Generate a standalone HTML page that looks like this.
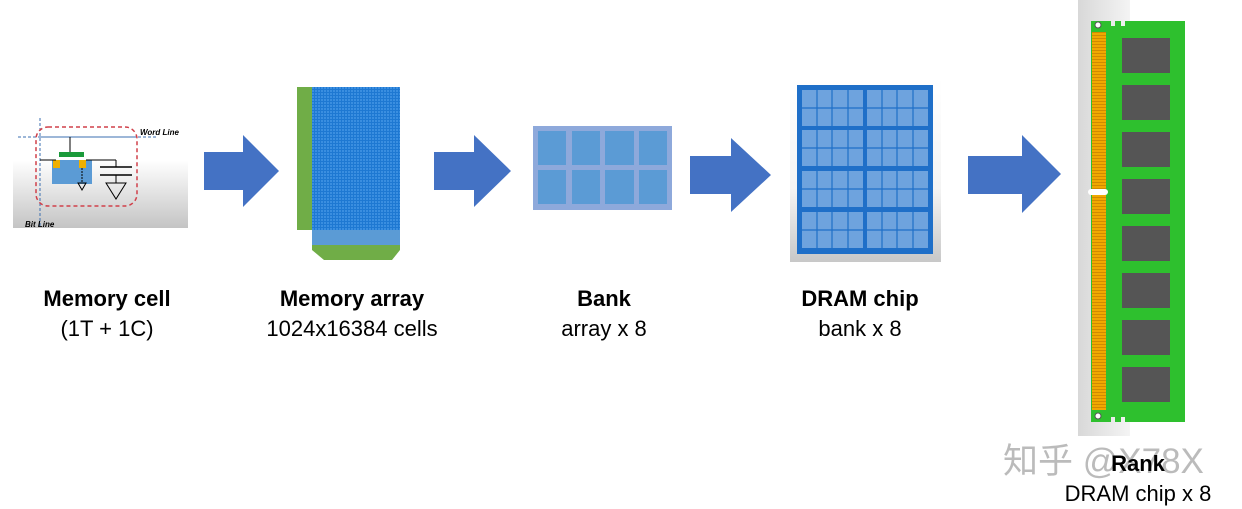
<!DOCTYPE html>
<html><head><meta charset="utf-8"><style>
body{margin:0;width:1242px;height:509px;background:#fff;position:relative;overflow:hidden;font-family:"Liberation Sans","Noto Sans CJK SC",sans-serif;}
.l{position:absolute;text-align:center;font-size:22px;color:#000;line-height:30px;}
.b{font-weight:bold;}
</style></head><body>
<svg width="1242" height="509" style="position:absolute;left:0;top:0">
<defs>
<linearGradient id="cg" x1="0" y1="0" x2="0" y2="1"><stop offset="0" stop-color="#fff"/><stop offset="0.4" stop-color="#fff"/><stop offset="1" stop-color="#c4c4c4"/></linearGradient>
<linearGradient id="chipg" x1="0" y1="0" x2="0" y2="1"><stop offset="0" stop-color="#fff"/><stop offset="0.6" stop-color="#f4f4f4"/><stop offset="1" stop-color="#c8c8c8"/></linearGradient>
<linearGradient id="ramg" x1="0" y1="0" x2="1" y2="0"><stop offset="0" stop-color="#d8d8d8"/><stop offset="1" stop-color="#f4f4f4"/></linearGradient>
<pattern id="grid" width="3" height="3" patternUnits="userSpaceOnUse"><rect width="3" height="3" fill="#1e78d2"/><rect width="2" height="2" fill="#3a8ee0"/></pattern>
<pattern id="gold" width="3" height="3" patternUnits="userSpaceOnUse"><rect width="3" height="3" fill="#f0a800"/><rect y="2" width="3" height="1" fill="#d08a00"/></pattern>
</defs>
<rect x="13" y="115" width="175" height="113" fill="url(#cg)"/>
<line x1="40" y1="118" x2="40" y2="228" stroke="#3b6fb0" stroke-width="1" stroke-dasharray="3,2"/>
<line x1="18" y1="137" x2="158" y2="137" stroke="#3b6fb0" stroke-width="1" stroke-dasharray="3,2"/>
<line x1="40" y1="137" x2="135" y2="137" stroke="#3b6fb0"/>
<rect x="36" y="127" width="101" height="79" rx="12" fill="none" stroke="#d0404a" stroke-width="1.5" stroke-dasharray="4,3"/>
<text x="140" y="135" font-size="8" font-weight="bold" font-style="italic" font-family="Liberation Sans">Word Line</text>
<text x="25" y="227" font-size="8" font-weight="bold" font-style="italic" font-family="Liberation Sans">Bit Line</text>
<line x1="70" y1="137" x2="70" y2="153" stroke="#000"/>
<rect x="59" y="152" width="25" height="5" fill="#1a9a3a"/>
<rect x="52" y="160" width="40" height="24" fill="#5b9bd5"/>
<rect x="53" y="160" width="7" height="8" fill="#f0b000"/>
<rect x="79" y="160" width="7" height="8" fill="#f0b000"/>
<line x1="40" y1="160" x2="56" y2="160" stroke="#000"/>
<line x1="86" y1="160" x2="116" y2="160" stroke="#000"/>
<line x1="116" y1="160" x2="116" y2="167" stroke="#000"/>
<line x1="100" y1="167" x2="132" y2="167" stroke="#000" stroke-width="1.5"/>
<line x1="100" y1="175" x2="132" y2="175" stroke="#000" stroke-width="1.5"/>
<line x1="116" y1="175" x2="116" y2="183" stroke="#000"/>
<polygon points="106,183 126,183 116,199" fill="none" stroke="#000"/>
<line x1="82" y1="168" x2="82" y2="183" stroke="#000" stroke-dasharray="2,1"/>
<polygon points="78,183 86,183 82,190" fill="none" stroke="#000"/>
<polygon points="204,152 243,152 243,135 279,171 243,207 243,190 204,190" fill="#4472c4"/>
<polygon points="434,152 474,152 474,135 511,171 474,207 474,190 434,190" fill="#4472c4"/>
<polygon points="690,156 731,156 731,138 771,175 731,212 731,194 690,194" fill="#4472c4"/>
<polygon points="968,156 1022,156 1022,135 1061,174 1022,213 1022,194 968,194" fill="#4472c4"/>
<rect x="297" y="87" width="15" height="143" fill="#70ad47"/>
<rect x="312" y="87" width="88" height="143" fill="url(#grid)"/>
<rect x="312" y="230" width="88" height="15" fill="#5b9bd5"/>
<polygon points="312,245 400,245 400,250 392,260 324,260 312,250" fill="#70ad47"/>
<rect x="533" y="126" width="139" height="84" fill="#8ea9db"/>
<g fill="#5b9bd5">
<rect x="538" y="131" width="28" height="34"/><rect x="572" y="131" width="28" height="34"/><rect x="605" y="131" width="29" height="34"/><rect x="639" y="131" width="28" height="34"/>
<rect x="538" y="170" width="28" height="34"/><rect x="572" y="170" width="28" height="34"/><rect x="605" y="170" width="29" height="34"/><rect x="639" y="170" width="28" height="34"/>
</g>
<rect x="790" y="78" width="151" height="184" fill="url(#chipg)"/>
<rect x="797" y="85" width="136" height="169" fill="#1f6fc8"/>
<g id="bk">
<rect x="802" y="90" width="61" height="36" fill="#6ea3de"/>
<g stroke="#1f6fc8" stroke-width="1.2">
<line x1="817" y1="90" x2="817" y2="126"/><line x1="832" y1="90" x2="832" y2="126"/><line x1="848" y1="90" x2="848" y2="126"/><line x1="802" y1="108" x2="863" y2="108"/>
</g></g>
<use href="#bk" x="65"/>
<use href="#bk" y="40"/><use href="#bk" x="65" y="40"/>
<use href="#bk" y="81"/><use href="#bk" x="65" y="81"/>
<use href="#bk" y="122"/><use href="#bk" x="65" y="122"/>
<rect x="1078" y="0" width="52" height="436" fill="url(#ramg)"/>
<path d="M1091,21 h20 v5 h4 v-5 h6 v5 h4 v-5 h60 v401 h-60 v-5 h-4 v5 h-6 v-5 h-4 v5 h-20 z" fill="#2ec02e"/>
<rect x="1092" y="32" width="14" height="378" fill="url(#gold)"/>
<rect x="1088" y="189" width="20" height="6" rx="3" fill="#fff"/>
<circle cx="1098" cy="25" r="3" fill="#fff" stroke="#555"/>
<circle cx="1098" cy="416" r="3" fill="#fff" stroke="#555"/>
<g fill="#555">
<rect x="1122" y="38" width="48" height="35"/><rect x="1122" y="85" width="48" height="35"/><rect x="1122" y="132" width="48" height="35"/><rect x="1122" y="179" width="48" height="35"/>
<rect x="1122" y="226" width="48" height="35"/><rect x="1122" y="273" width="48" height="35"/><rect x="1122" y="320" width="48" height="35"/><rect x="1122" y="367" width="48" height="35"/>
</g>
</svg>
<div class="l" style="left:7px;width:200px;top:284px"><span class="b">Memory cell</span><br>(1T + 1C)</div>
<div class="l" style="left:232px;width:240px;top:284px"><span class="b">Memory array</span><br>1024x16384 cells</div>
<div class="l" style="left:504px;width:200px;top:284px"><span class="b">Bank</span><br>array x 8</div>
<div class="l" style="left:760px;width:200px;top:284px"><span class="b">DRAM chip</span><br>bank x 8</div>
<div class="l" style="width:300px;top:444px;font-size:35px;line-height:36px;color:#bbb;text-align:left;left:1003px;white-space:nowrap">知乎 @X78X</div>
<div class="l" style="left:1038px;width:200px;top:449px"><span class="b">Rank</span><br>DRAM chip x 8</div>
</body></html>
